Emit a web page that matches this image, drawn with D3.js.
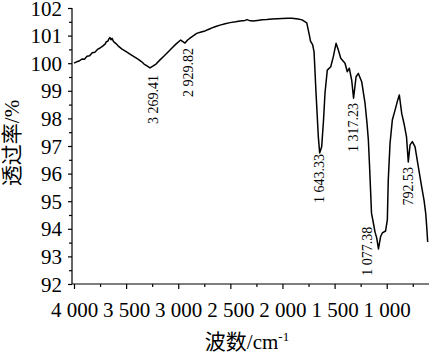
<!DOCTYPE html>
<html><head><meta charset="utf-8">
<script src="https://cdn.jsdelivr.net/npm/d3@7"></script>
<style>html,body{margin:0;padding:0;background:#fff;}svg{display:block;}</style>
</head><body><svg id="c" width="429" height="355"></svg>
<script>
// Wavenumbers (cm-1) and transmittance (%)
const wavenumber = [4000,3975,3950,3925,3900,3875,3850,3825,3800,3775,3750,3725,3700,3690,3675,3665,3655,3645,3635,3620,3600,3575,3539,3500,3463,3425,3386,3350,3328,3300,3271,3240,3213,3175,3136,3100,3060,3020,2976,2935,2910,2887,2860,2823,2780,2743,2700,2676,2640,2599,2550,2503,2450,2407,2359,2340,2320,2283,2240,2196,2150,2100,2050,2004,1950,1908,1851,1812,1767,1742,1731,1710,1697,1678,1656,1643,1624,1606,1592,1570,1537,1512,1486,1464,1441,1400,1378,1359,1336,1318,1294,1272,1240,1208,1189,1176,1165,1155,1146,1128,1112,1096,1079,1059,1042,1011,994,985,968,946,920,894,879,856,831,810,793,776,754,728,697,664,642,626,616,607];
const transmittance = [100.00,100.05,100.08,100.15,100.14,100.25,100.27,100.38,100.40,100.50,100.55,100.62,100.70,100.78,100.80,100.88,100.93,100.85,100.90,100.78,100.72,100.62,100.51,100.42,100.33,100.24,100.15,100.05,99.97,99.90,99.83,99.90,99.97,100.12,100.26,100.40,100.55,100.70,100.84,100.73,100.84,100.91,100.98,101.08,101.13,101.17,101.24,101.28,101.33,101.38,101.43,101.47,101.50,101.53,101.55,101.58,101.55,101.53,101.55,101.57,101.58,101.60,101.61,101.62,101.63,101.63,101.60,101.57,101.46,101.02,100.80,100.66,100.41,98.92,97.33,96.75,96.97,97.94,98.92,99.75,99.87,100.24,100.72,100.48,100.18,100.00,99.69,99.82,99.39,98.73,99.51,99.63,99.33,98.55,97.83,97.22,96.31,95.41,94.57,94.21,93.88,93.67,93.27,93.71,93.85,93.92,94.32,95.77,97.10,97.94,98.30,98.67,98.85,98.18,97.76,97.33,96.42,97.04,97.16,96.97,96.25,95.51,95.04,94.57,94.07,93.52];

const xTicks = [4000,3500,3000,2500,2000,1500,1000];
const xMinorTicks = [3750,3250,2750,2250,1750,1250,750];
const yTicks = [92,93,94,95,96,97,98,99,100,101,102];
const yMinorTicks = [92.5,93.5,94.5,95.5,96.5,97.5,98.5,99.5,100.5,101.5];

// Peak annotations: label, wavenumber of the label's centre line, transmittance at the label's top end
const peakLabels = ["3 269.41","2 929.82","1 643.33","1 317.23","1 077.38","792.53"];
const peakWavenumber = [3242,2906,1640,1317,1189,792];
const peakLabelTop = [99.57,100.55,96.71,98.56,94.07,96.24];

const xTitle = "波数/cm";
const xTitleSup = "-1";
const yTitle = "透过率/%";

const svg = d3.select("#c");
const FONT = "'Liberation Serif','Times New Roman','Noto Sans CJK SC',serif";
const x = d3.scaleLinear().domain([4000,600]).range([74,428.4]);
const y = d3.scaleLinear().domain([92,102]).range([284,8]);

// axes
const gx = svg.append("g").attr("transform","translate(0,284)");
gx.call(d3.axisBottom(x).tickValues(xTicks).tickSize(5).tickPadding(13)
   .tickFormat(d => d3.format(",")(d).replace(","," ")));
const gxm = svg.append("g").attr("transform","translate(0,284)");
gxm.call(d3.axisBottom(x).tickValues(xMinorTicks).tickSize(3).tickFormat(""));
const gy = svg.append("g").attr("transform","translate(72,0)");
gy.call(d3.axisLeft(y).tickValues(yTicks).tickSize(4).tickPadding(6));
const gym = svg.append("g").attr("transform","translate(72,0)");
gym.call(d3.axisLeft(y).tickValues(yMinorTicks).tickSize(3).tickFormat(""));
[gx,gxm,gy,gym].forEach(g=>{
  g.selectAll(".domain").remove();
  g.selectAll("line").attr("stroke","#000").attr("stroke-width",1.2);
  g.selectAll("text").attr("fill","#000").style("font-family",FONT).style("font-size","21px");
});
gy.selectAll("text").attr("dy","0.34em");
svg.append("line").attr("x1",72).attr("x2",429).attr("y1",284).attr("y2",284).attr("stroke","#000").attr("stroke-width",1.2);
svg.append("line").attr("x1",72).attr("x2",72).attr("y1",8).attr("y2",284).attr("stroke","#000").attr("stroke-width",1.2);

// curve
const data = wavenumber.map((w,i)=>[w,transmittance[i]]);
svg.append("path").datum(data)
  .attr("fill","none").attr("stroke","#000").attr("stroke-width",1.5).attr("stroke-linejoin","round")
  .attr("d", d3.line().x(d=>x(d[0])).y(d=>y(d[1])));

// peak labels
peakLabels.forEach((t,i)=>{
  const px = x(peakWavenumber[i]), py = y(peakLabelTop[i]);
  svg.append("text").attr("transform",`translate(${px},${py}) rotate(-90)`)
    .attr("text-anchor","end").attr("dominant-baseline","central")
    .style("font-family",FONT).style("font-size","14px").attr("fill","#000").text(t);
});

// titles
const xt = svg.append("text").attr("x",247).attr("y",349).attr("text-anchor","middle")
  .style("font-family",FONT).style("font-size","21px").attr("fill","#000");
xt.append("tspan").text(xTitle);
xt.append("tspan").attr("dy",-8).style("font-size","13px").text(xTitleSup);
svg.append("text").attr("transform","translate(12,143) rotate(-90)").attr("text-anchor","middle")
  .attr("dominant-baseline","central")
  .style("font-family",FONT).style("font-size","21px").attr("fill","#000").text(yTitle);
</script></body></html>
